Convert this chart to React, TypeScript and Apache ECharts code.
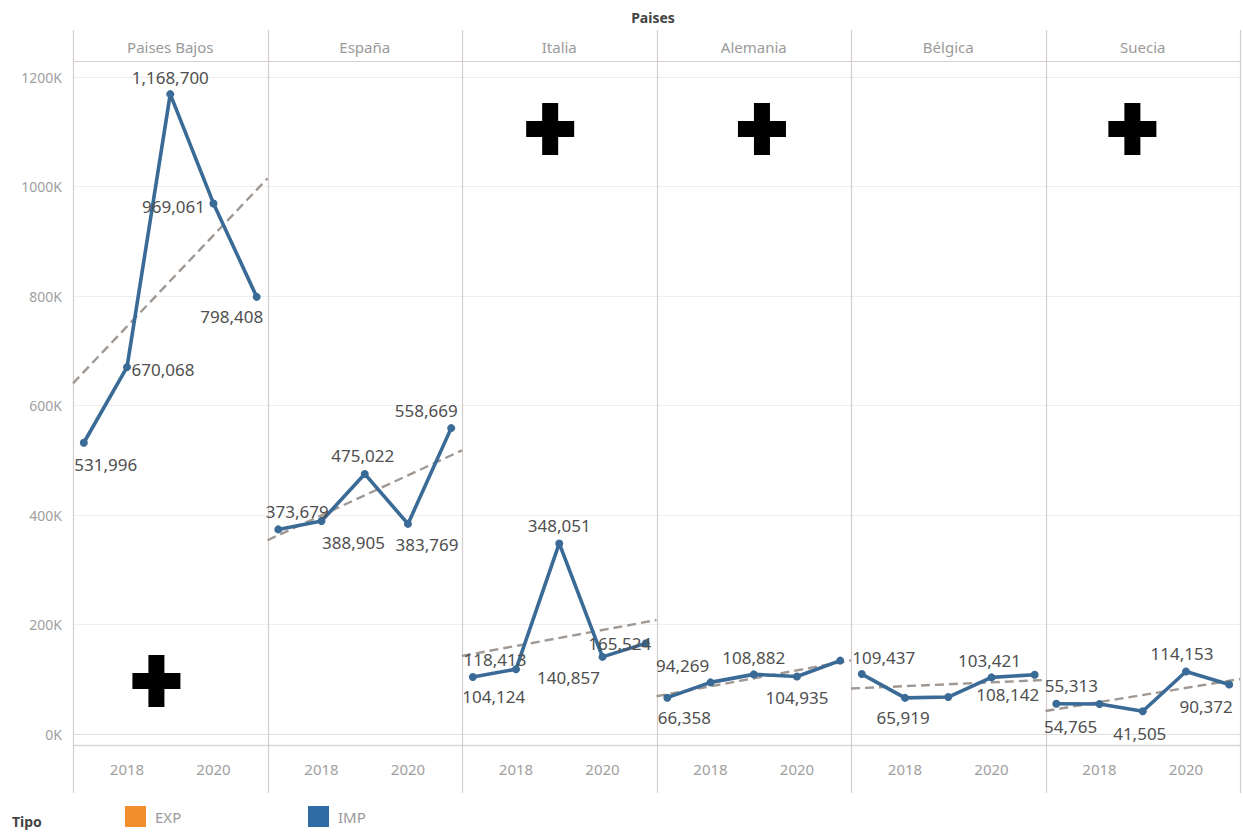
import React, { useEffect, useRef } from "react";
import * as echarts from "echarts";

// ---------- data ----------
const chartTitle = "Paises";
const years = [2017, 2018, 2019, 2020, 2021];
const countries = ["Paises Bajos", "España", "Italia", "Alemania", "Bélgica", "Suecia"];
const paisesBajos = [531996, 670068, 1168700, 969061, 798408];
const espana = [373679, 388905, 475022, 383769, 558669];
const italia = [104124, 118413, 348051, 140857, 165524];
const alemania = [66358, 94269, 108882, 104935, 134000];
const belgica = [109437, 65919, 67500, 103421, 108142];
const suecia = [55313, 54765, 41505, 114153, 90372];
const countryValues = [paisesBajos, espana, italia, alemania, belgica, suecia];
const xTickLabels = [2018, 2020];
const yTicks = [0, 200000, 400000, 600000, 800000, 1000000, 1200000];
const legendTitle = "Tipo";
const legendNames = ["EXP", "IMP"];
// annotation crosses: [panel, x, y] in data units
const crossMarks = [
  [0, 2018.68, 96800],
  [2, 2018.79, 1105000],
  [3, 2019.19, 1105000],
  [5, 2018.76, 1105000],
];

// ---------- layout (label placement, pixels relative to point) ----------
const labelOffsets: (number[] | null)[][] = [
  [[22, 22], [36, 2], [0, -17], [-40, 3], [-25, 20]],
  [[19, -18], [32, 21], [-2, -18], [19, 21], [-25, -18]],
  [[21, 20], [-21, -10], [0, -18], [-34, 21], [-26, 0]],
  [[17, 20], [-28, -17], [0, -17], [0, 21], null],
  [[22, -17], [-2, 20], null, [-2, -17], [-27, 20]],
  [[15, -18], [-29, 22], [-3, 22], [-4, -18], [-23, 22]],
];

const W = 1243;
const H = 836;
const PANEL_X0 = 73;
const PANEL_X1 = 1240;
const PANEL_W = (PANEL_X1 - PANEL_X0) / 6;
const GRID_TOP = 77;
const GRID_BOTTOM_Y = 734;
const FONT = "'Noto Sans', 'Open Sans', sans-serif";
const LINE_BLUE = "#3a6a96";
const LEGEND_BLUE = "#2f6ca6";
const ORANGE = "#f28e2b";
const X_MIN = 2016.75;
const X_MAX = 2021.25;

function linearFit(xs: number[], ys: number[]) {
  const n = xs.length;
  const mx = xs.reduce((a, b) => a + b, 0) / n;
  const my = ys.reduce((a, b) => a + b, 0) / n;
  let sxy = 0;
  let sxx = 0;
  for (let i = 0; i < n; i++) {
    sxy += (xs[i] - mx) * (ys[i] - my);
    sxx += (xs[i] - mx) * (xs[i] - mx);
  }
  const b = sxy / sxx;
  const a = my - b * mx;
  return (x: number) => a + b * x;
}

const fmt = (v: number) => v.toLocaleString("en-US");

function buildOption() {
  const grids: any[] = [];
  const xAxes: any[] = [];
  const yAxes: any[] = [];
  const series: any[] = [];
  const graphics: any[] = [];

  countries.forEach((name, i) => {
    const left = PANEL_X0 + i * PANEL_W;
    grids.push({
      left,
      width: PANEL_W,
      top: GRID_TOP,
      bottom: H - GRID_BOTTOM_Y,
      containLabel: false,
    });
    xAxes.push({
      type: "value",
      gridIndex: i,
      min: X_MIN,
      max: X_MAX,
      interval: 0.25,
      axisLine: { show: false },
      axisTick: { show: false },
      splitLine: { show: false },
      axisLabel: {
        show: true,
        margin: 27,
        color: "#a0a0a0",
        fontSize: 15,
        fontFamily: FONT,
        hideOverlap: false,
        showMinLabel: true,
        showMaxLabel: true,
        formatter: (v: number) => (xTickLabels.includes(v) ? String(v) : ""),
      },
    });
    yAxes.push({
      type: "value",
      gridIndex: i,
      min: yTicks[0],
      max: yTicks[yTicks.length - 1],
      interval: yTicks[1] - yTicks[0],
      axisLine: { show: false },
      axisTick: { show: false },
      splitLine: {
        show: true,
        lineStyle: {
          color: ["#dedede", "#efefef", "#efefef", "#efefef", "#efefef", "#efefef", "#ececec"],
          width: 1.2,
        },
      },
      axisLabel: {
        show: i === 0,
        margin: 11,
        color: "#a0a0a0",
        fontSize: 14,
        fontFamily: FONT,
        formatter: (v: number) => `${v / 1000}K`,
      },
    });

    const vals = countryValues[i];
    // trend line (least-squares fit of the panel's values)
    const f = linearFit(years, vals);
    series.push({
      type: "line",
      name: "trend",
      xAxisIndex: i,
      yAxisIndex: i,
      data: [
        [X_MIN, f(X_MIN)],
        [X_MAX, f(X_MAX)],
      ],
      symbol: "none",
      silent: true,
      z: 2,
      lineStyle: { color: "#a09892", width: 2.4, type: [9, 5] },
    });
    series.push({
      type: "line",
      name: "IMP",
      xAxisIndex: i,
      yAxisIndex: i,
      z: 3,
      symbol: "circle",
      symbolSize: 8,
      itemStyle: { color: LINE_BLUE },
      lineStyle: { color: LINE_BLUE, width: 3.6 },
      data: years.map((yr, j) => {
        const off = labelOffsets[i][j];
        return {
          value: [yr, vals[j]],
          label: off
            ? {
                show: true,
                position: "inside",
                offset: off,
                formatter: () => fmt(vals[j]),
                color: "#4f4f4f",
                fontSize: 17,
                fontFamily: FONT,
              }
            : { show: false },
        };
      }),
    });

    const marks = crossMarks.filter((m) => m[0] === i);
    if (marks.length) {
      series.push({
        type: "scatter",
        name: "cross",
        xAxisIndex: i,
        yAxisIndex: i,
        silent: true,
        z: 4,
        symbol: "path://M16,0H32V18H48V34H32V52H16V34H0V18H16Z",
        symbolSize: [48, 52],
        itemStyle: { color: "#000000", opacity: 1 },
        data: marks.map((m) => [m[1], m[2]]),
      });
    }

    // panel header
    graphics.push({
      type: "text",
      x: left + PANEL_W / 2,
      y: 47,
      style: {
        text: name,
        fill: "#9a9a9a",
        font: `15px ${FONT}`,
        textAlign: "center",
        textVerticalAlign: "middle",
      },
    });
  });

  // empty EXP series so it appears in the legend
  series.push({
    type: "line",
    name: "EXP",
    xAxisIndex: 0,
    yAxisIndex: 0,
    data: [],
    itemStyle: { color: ORANGE },
    lineStyle: { color: ORANGE },
  });

  // panel borders
  for (let k = 0; k <= 6; k++) {
    const x = Math.round(PANEL_X0 + k * PANEL_W) + 0.5;
    graphics.push({
      type: "line",
      shape: { x1: x, y1: 30, x2: x, y2: 793 },
      style: { stroke: "#d6cccc", lineWidth: 1.2 },
      silent: true,
      z: 1,
    });
  }
  graphics.push({
    type: "line",
    shape: { x1: PANEL_X0, y1: 61.5, x2: PANEL_X1, y2: 61.5 },
    style: { stroke: "#d9cdcd", lineWidth: 1.2 },
    silent: true,
  });
  graphics.push({
    type: "line",
    shape: { x1: PANEL_X0, y1: 745.5, x2: PANEL_X1, y2: 745.5 },
    style: { stroke: "#d8d8d8", lineWidth: 1.6 },
    silent: true,
  });
  graphics.push({
    type: "text",
    x: 653,
    y: 17,
    style: {
      text: chartTitle,
      fill: "#444444",
      font: `bold 14px ${FONT}`,
      textAlign: "center",
      textVerticalAlign: "middle",
    },
  });
  graphics.push({
    type: "text",
    x: 12,
    y: 821,
    style: {
      text: legendTitle,
      fill: "#444444",
      font: `bold 14px ${FONT}`,
      textAlign: "left",
      textVerticalAlign: "middle",
    },
  });

  const legendBase = {
    orient: "horizontal",
    top: 806,
    padding: 0,
    icon: "rect",
    itemWidth: 21,
    itemHeight: 21,
    selectedMode: false,
    textStyle: { color: "#9a9a9a", fontSize: 15, fontFamily: FONT, padding: [0, 0, 0, 4] },
  };

  return {
    animation: false,
    backgroundColor: "#ffffff",
    textStyle: { fontFamily: FONT },
    grid: grids,
    xAxis: xAxes,
    yAxis: yAxes,
    series,
    graphic: graphics,
    legend: [
      { ...legendBase, left: 125, data: [{ name: legendNames[0], itemStyle: { color: ORANGE } }] },
      { ...legendBase, left: 308, data: [{ name: legendNames[1], itemStyle: { color: LEGEND_BLUE } }] },
    ],
  };
}

export default function App() {
  const ref = useRef<HTMLDivElement>(null);
  useEffect(() => {
    if (!ref.current) return;
    const chart = echarts.init(ref.current, undefined, { renderer: "svg", width: W, height: H });
    chart.setOption(buildOption() as any);
    return () => chart.dispose();
  }, []);
  return (
    <div
      ref={ref}
      style={{ position: "fixed", left: 0, top: 0, width: W, height: H, background: "#fff" }}
    />
  );
}
